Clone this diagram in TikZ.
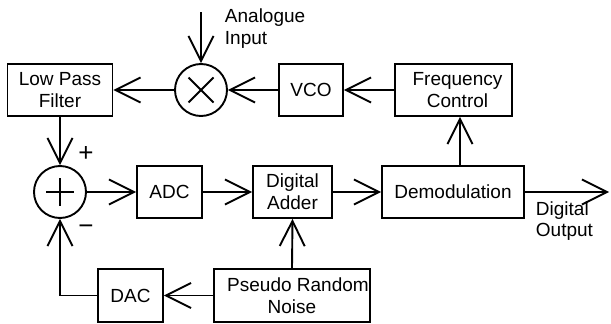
\documentclass[tikz,border=0pt]{standalone}
\usepackage{fontspec}
\setmainfont{Liberation Sans}
\usetikzlibrary{arrows.meta}
\begin{document}
\begin{tikzpicture}[x=1pt,y=-1pt,
  line width=1.9pt,
  font=\fontsize{19}{22}\selectfont,
  blk/.style={draw, rectangle, inner sep=0pt, minimum height=52pt, align=center},
  junc/.style={draw, circle, inner sep=0pt, minimum size=52pt},
  arr/.style={-{Straight Barb[length=25pt,width=25pt,line width=1.9pt]}},
  lbl/.style={align=left, anchor=base west, inner sep=0pt, font=\fontsize{19}{21}\selectfont},
  sgn/.style={inner sep=0pt, font=\fontsize{26}{26}\selectfont}
]
\useasboundingbox (0,0) rectangle (611,324);
% blocks
\node[blk, minimum width=105pt] (lpf) at (60,90) {Low Pass\\Filter};
\node[junc] (mult) at (201,90) {};
\node[blk, minimum width=64pt] (vco) at (311,90) {VCO};
\node[blk, minimum width=117pt] (fc) at (453.5,90) {\hspace*{8pt}Frequency\\\hspace*{8pt}Control};
\node[junc] (sum) at (60,192) {};
\node[blk, minimum width=65pt] (adc) at (169.5,192) {ADC};
\node[blk, minimum width=79pt] (da) at (292.5,192) {Digital\\Adder};
\node[blk, minimum width=142pt] (dem) at (453,192) {Demodulation};
\node[blk, minimum width=65pt, minimum height=53pt] (dac) at (130.5,295.5) {DAC};
\node[blk, minimum width=156pt, minimum height=53pt] (prn) at (292,295.5) {\hspace*{12pt}Pseudo Random\\Noise};
% symbols inside junctions
\draw (mult.center) ++(-12.5,-12.5) -- ++(25,25);
\draw (mult.center) ++(12.5,-12.5) -- ++(-25,25);
\draw (sum.center) ++(-14,0) -- ++(28,0);
\draw (sum.center) ++(0,-14) -- ++(0,28);
% labels
\node[lbl] (ain) at (224,44) {Analogue\\Input};
\node[lbl] (dout) at (535,236) {Digital\\Output};
\node[sgn] (plus) at (86,154) {+};
\node[sgn] (minus) at (86,230) {−};
% free ends
\coordinate (ainpt) at (201,12);
\coordinate (outpt) at (609,192);
\coordinate (fcx) at (460,0);
% connectors
\draw[arr] (ainpt) -- (mult.north);
\draw[arr] (mult.west) -- (lpf.east);
\draw[arr] (vco.west) -- (mult.east);
\draw[arr] (fc.west) -- (vco.east);
\draw[arr] (lpf.south) -- (sum.north);
\draw[arr] (sum.east) -- (adc.west);
\draw[arr] (adc.east) -- (da.west);
\draw[arr] (da.east) -- (dem.west);
\draw[arr] (dem.north -| fcx) -- (fc.south -| fcx);
\draw[arr] (dem.east) -- (outpt);
\draw[arr] (prn.north) -- (da.south);
\draw[arr] (prn.west) -- (dac.east);
\draw[arr] (dac.west) -| (sum.south);
\end{tikzpicture}
\end{document}
